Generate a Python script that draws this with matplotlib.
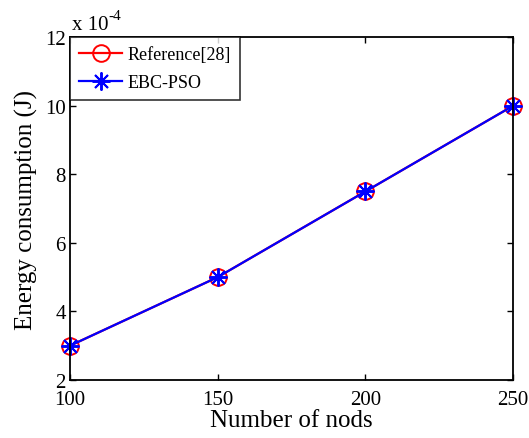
import matplotlib
matplotlib.use("Agg")
import matplotlib.pyplot as plt
import numpy as np

nodes = [100, 150, 200, 250]
energy_ref28 = [3e-4, 5e-4, 7.5e-4, 10e-4]
energy_ebc_pso = [3e-4, 5e-4, 7.5e-4, 10e-4]
scale = 1e-4

xticks = [100, 150, 200, 250]
yticks = [2, 4, 6, 8, 10, 12]

plt.rcParams['font.family'] = ['Liberation Serif', 'DejaVu Serif']

fig = plt.figure(figsize=(5.29, 4.39), dpi=100)
ax = fig.add_axes([0.132, 0.132, 0.838, 0.781])

ax.plot(nodes, np.array(energy_ref28) / scale, '-o', color='r', lw=1.6,
        ms=12, mfc='none', mew=1.4, label='Reference[28]', clip_on=False)
ax.plot(nodes, np.array(energy_ebc_pso) / scale, '-', color='b', lw=1.6,
        marker=(8, 2, 0), ms=13, mew=1.4, label='EBC-PSO', clip_on=False)

ax.set_xlim(100, 250)
ax.set_ylim(2, 12)
ax.set_xticks(xticks)
ax.set_yticks(yticks)
ax.tick_params(direction='in', length=4, width=1, labelsize=15,
               top=True, right=True)
ax.tick_params(axis='x', pad=7)
ax.tick_params(axis='y', pad=3)
for s in ax.spines.values():
    s.set_linewidth(1.3)

ax.set_xlabel('Number of nods', fontsize=18, labelpad=0)
ax.set_ylabel('Energy consumption (J)', fontsize=18, labelpad=5)
ax.text(0.005, 1.01, 'x 10', transform=ax.transAxes,
        fontsize=15, ha='left', va='bottom')
ax.text(0.088, 1.045, '-4', transform=ax.transAxes,
        fontsize=11, ha='left', va='bottom')

leg = ax.legend(loc='upper left', fontsize=13, frameon=True, fancybox=False,
                borderaxespad=0, handlelength=2.4, handletextpad=0.3,
                borderpad=0.5, labelspacing=0.6)
leg.get_frame().set_edgecolor('k')
leg.get_frame().set_linewidth(1.2)

fig.savefig('out.png', dpi=100)
